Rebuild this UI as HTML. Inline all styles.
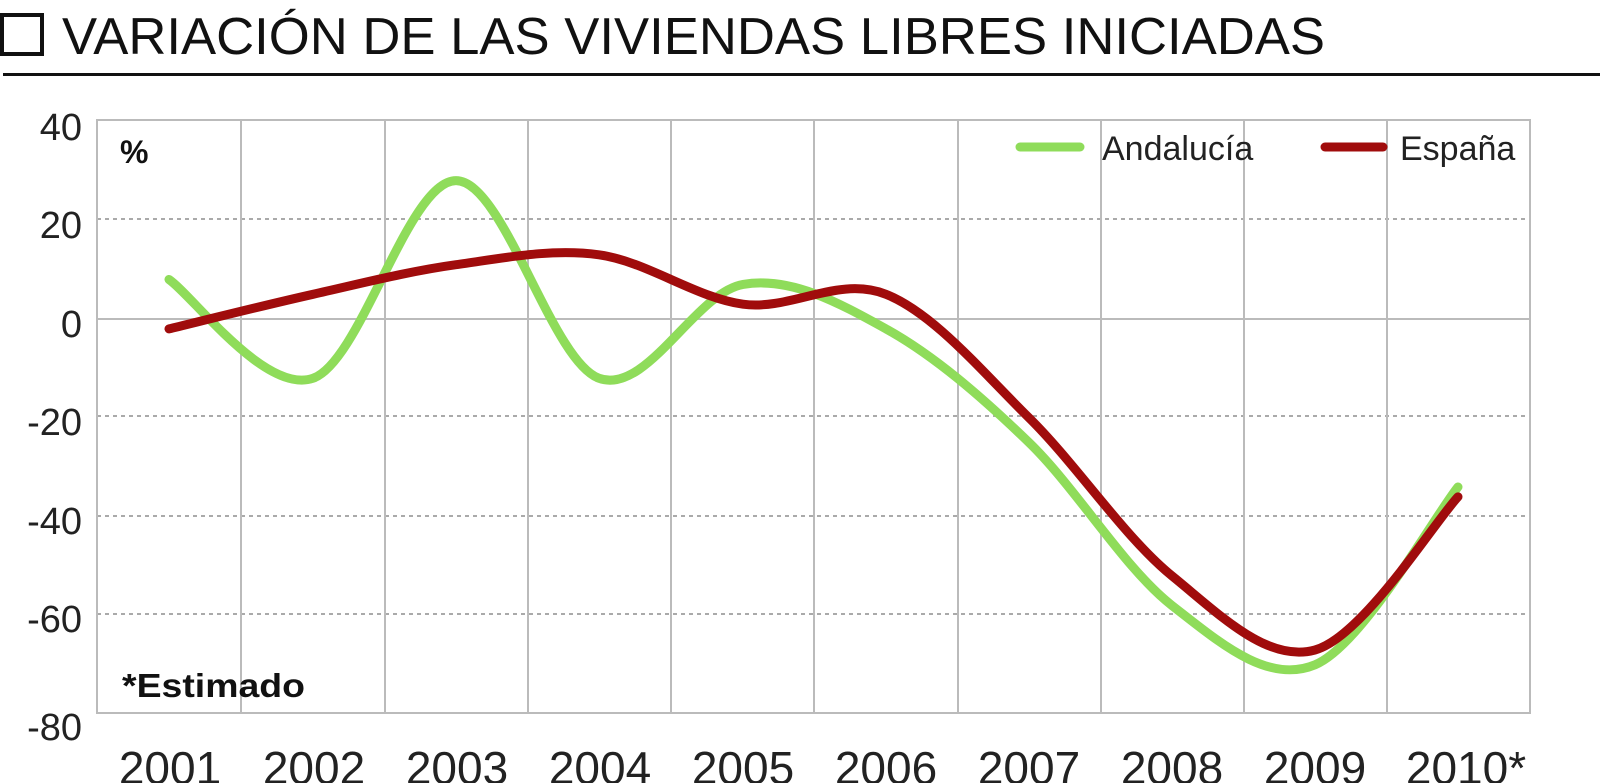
<!DOCTYPE html>
<html><head><meta charset="utf-8"><style>
html,body{margin:0;padding:0;background:#fff;}
svg{display:block;font-family:"Liberation Sans",sans-serif;}
</style></head><body>
<svg id="s" width="1600" height="783" viewBox="0 0 1600 783" xmlns="http://www.w3.org/2000/svg">
<rect x="2" y="15" width="40" height="39" fill="none" stroke="#111" stroke-width="4"/>
<text x="62" y="54" font-size="52" fill="#111" textLength="1263" lengthAdjust="spacingAndGlyphs">VARIACIÓN DE LAS VIVIENDAS LIBRES INICIADAS</text>
<line x1="3" y1="74.5" x2="1600" y2="74.5" stroke="#111" stroke-width="3"/>
<g stroke="#aaa" stroke-width="2" stroke-dasharray="4,4">
<line x1="97" y1="219" x2="1530" y2="219"/><line x1="97" y1="416" x2="1530" y2="416"/>
<line x1="97" y1="516" x2="1530" y2="516"/><line x1="97" y1="614" x2="1530" y2="614"/>
</g>
<g stroke="#bbb" stroke-width="2">
<line x1="97" y1="319" x2="1530" y2="319"/>
<line x1="241" y1="120" x2="241" y2="713"/><line x1="385" y1="120" x2="385" y2="713"/>
<line x1="528" y1="120" x2="528" y2="713"/><line x1="671" y1="120" x2="671" y2="713"/>
<line x1="814" y1="120" x2="814" y2="713"/><line x1="958" y1="120" x2="958" y2="713"/>
<line x1="1101" y1="120" x2="1101" y2="713"/><line x1="1244" y1="120" x2="1244" y2="713"/>
<line x1="1387" y1="120" x2="1387" y2="713"/>
<rect x="97" y="120" width="1433" height="593" fill="none"/>
</g>
<g font-size="38" fill="#222" text-anchor="end">
<text x="82" y="140">40</text><text x="82" y="238">20</text><text x="82" y="337">0</text>
<text x="82" y="435">-20</text><text x="82" y="534">-40</text><text x="82" y="632">-60</text><text x="82" y="740">-80</text>
</g>
<g font-size="46" fill="#222" text-anchor="middle">
<text x="170" y="784">2001</text><text x="314" y="784">2002</text><text x="457" y="784">2003</text>
<text x="600" y="784">2004</text><text x="743" y="784">2005</text><text x="886" y="784">2006</text>
<text x="1029" y="784">2007</text><text x="1172" y="784">2008</text><text x="1315" y="784">2009</text>
<text x="1466" y="784">2010*</text>
</g>
<text x="120" y="163" font-size="32" font-weight="bold" fill="#111">%</text>
<text x="122" y="697" font-size="33" font-weight="bold" fill="#111" textLength="183" lengthAdjust="spacingAndGlyphs">*Estimado</text>
<line x1="1020" y1="147" x2="1080" y2="147" stroke="#8fdc5a" stroke-width="9" stroke-linecap="round"/>
<text x="1102" y="160" font-size="34" fill="#222">Andalucía</text>
<line x1="1325" y1="147" x2="1383" y2="147" stroke="#a00c0c" stroke-width="9" stroke-linecap="round"/>
<text x="1400" y="160" font-size="34" fill="#222">España</text>
<path id="ga" fill="none" stroke="#8fdc5a" stroke-width="9" stroke-linecap="round"/>
<path id="es" fill="none" stroke="#a00c0c" stroke-width="9" stroke-linecap="round"/>
</svg>
<script>
function Y(v){return 319-v*4.94;}
var xs=[169,313,456,599,743,886,1029,1172,1315,1458];
function path(vals){
 var p=xs.map(function(x,i){return [x,Y(vals[i])];});
 var d="M"+p[0][0]+","+p[0][1];
 for(var i=0;i<p.length-1;i++){
  var p0=p[i-1]||p[i],p1=p[i],p2=p[i+1],p3=p[i+2]||p2;
  var c1=[p1[0]+(p2[0]-p0[0])/6,p1[1]+(p2[1]-p0[1])/6];
  var c2=[p2[0]-(p3[0]-p1[0])/6,p2[1]-(p3[1]-p1[1])/6];
  d+=" C"+c1+" "+c2+" "+p2;
 }
 return d;
}
document.getElementById("ga").setAttribute("d",path([8,-12,28,-12,7,-2,-25,-58,-70,-34]));
document.getElementById("es").setAttribute("d",path([-2,5,11,13,3,5,-20,-52,-67,-36]));
</script>
</body></html>
